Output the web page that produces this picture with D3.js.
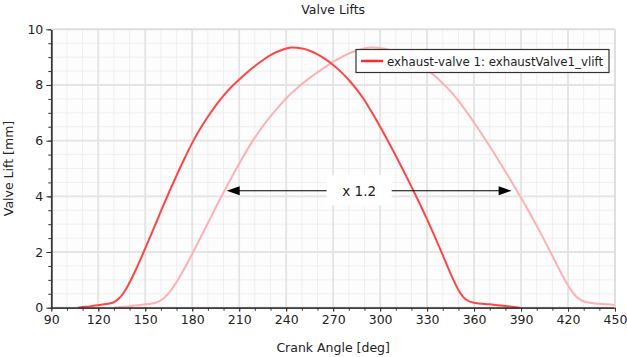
<!DOCTYPE html>
<html><head><meta charset="utf-8">
<script src="https://cdn.jsdelivr.net/npm/d3@7/dist/d3.min.js"></script>
<style>
body{margin:0;background:#fff;}
text{font-family:"DejaVu Sans",sans-serif;fill:#222;}
</style></head>
<body><svg id="c" width="627" height="357"></svg>
<script>
// ---- data ----
const darkAngle = [107,112,117,122,127,130,133,136,139,142,145,149,153,157,161,165,170,175,180,185,190,195,200,205,210,215,220,225,230,235,240,243.5,247,251,255,260,265,270,275,280,285,290,295,300,305,310,315,320,325,330,334,338,342,346,350,353,356,360,370,380,389];
const darkLift  = [0,0.03,0.07,0.11,0.15,0.2,0.32,0.52,0.8,1.13,1.49,2.0,2.53,3.06,3.6,4.12,4.75,5.35,5.92,6.42,6.86,7.26,7.62,7.93,8.2,8.45,8.68,8.89,9.07,9.21,9.31,9.35,9.34,9.3,9.23,9.1,8.93,8.72,8.47,8.18,7.84,7.45,6.99,6.5,5.99,5.46,4.91,4.35,3.77,3.17,2.67,2.15,1.62,1.1,0.64,0.39,0.25,0.18,0.12,0.06,0];
const lightAngle = [130.2,136.2,142.2,148.2,154.2,157.8,161.4,165,168.6,172.2,175.8,180.6,185.4,190.2,195,199.8,205.8,211.8,217.8,223.8,229.8,235.8,241.8,247.8,253.8,259.8,265.8,271.8,277.8,283.8,289.8,294,298.2,303,307.8,313.8,319.8,325.8,331.8,337.8,343.8,349.8,355.8,361.8,367.8,373.8,379.8,385.8,391.8,397.8,402.6,407.4,412.2,417,421.8,425.4,429,433.8,445.8,450];
const lightLift  = [0,0.03,0.07,0.11,0.15,0.2,0.32,0.52,0.8,1.13,1.49,2.0,2.53,3.06,3.6,4.12,4.75,5.35,5.92,6.42,6.86,7.26,7.62,7.93,8.2,8.45,8.68,8.89,9.07,9.21,9.31,9.35,9.34,9.3,9.23,9.1,8.93,8.72,8.47,8.18,7.84,7.45,6.99,6.5,5.99,5.46,4.91,4.35,3.77,3.17,2.67,2.15,1.62,1.1,0.64,0.39,0.25,0.18,0.12,0.1];
const xTicks = [90,120,150,180,210,240,270,300,330,360,390,420,450];
const yTicks = [0,2,4,6,8,10];
const legendLabel = "exhaust-valve 1: exhaustValve1_vlift";
const annotLabel = "x 1.2";
const annotLeft = 202, annotRight = 384, annotY = 4.2, annotCenter = 286.6;

// ---- drawing ----
const svg = d3.select("#c");
const L = 51.3, R = 615, T = 29.3, B = 307.7;
const x = d3.scaleLinear().domain([90,450]).range([L,R]);
const y = d3.scaleLinear().domain([0,10]).range([B,T]);

svg.append("rect").attr("x",L).attr("y",T).attr("width",R-L).attr("height",B-T).attr("fill","#fdfdfd");

const g = svg.append("g");
g.selectAll(".mx").data(d3.range(90,451,10)).join("line")
  .attr("x1",d=>x(d)).attr("x2",d=>x(d)).attr("y1",T).attr("y2",B)
  .attr("stroke","#efefef").attr("stroke-width",1);
g.selectAll(".my").data(d3.range(0,10.01,0.5)).join("line")
  .attr("y1",d=>y(d)).attr("y2",d=>y(d)).attr("x1",L).attr("x2",R)
  .attr("stroke","#efefef").attr("stroke-width",1);
g.selectAll(".Mx").data(xTicks).join("line")
  .attr("x1",d=>x(d)).attr("x2",d=>x(d)).attr("y1",T).attr("y2",B)
  .attr("stroke","#e4e4e4").attr("stroke-width",1.8);
g.selectAll(".My").data(yTicks).join("line")
  .attr("y1",d=>y(d)).attr("y2",d=>y(d)).attr("x1",L).attr("x2",R)
  .attr("stroke","#e4e4e4").attr("stroke-width",1.8);

const line = d3.line().x(d=>x(d[0])).y(d=>y(d[1])).curve(d3.curveMonotoneX);
svg.append("path").datum(lightAngle.map((a,i)=>[a,lightLift[i]]))
  .attr("d",line).attr("fill","none").attr("stroke","#ffb0b0").attr("stroke-width",2);
svg.append("path").datum(darkAngle.map((a,i)=>[a,darkLift[i]]))
  .attr("d",line).attr("fill","none").attr("stroke","#ff4545").attr("stroke-width",2);

const xAxis = d3.axisBottom(x).tickValues(xTicks).tickSize(4).tickSizeOuter(0).tickPadding(3);
const xMinor = d3.axisBottom(x).tickValues(d3.range(90,451,10)).tickSize(3).tickFormat("").tickSizeOuter(0);
const yAxis = d3.axisLeft(y).tickValues(yTicks).tickSize(5).tickSizeOuter(0).tickPadding(3);
const yMinor = d3.axisLeft(y).tickValues(d3.range(0,10.01,0.5)).tickSize(3).tickFormat("").tickSizeOuter(0);
function style(sel){
  sel.select(".domain").attr("stroke","#333").attr("stroke-width",1.3);
  sel.selectAll(".tick line").attr("stroke","#333");
  sel.selectAll(".tick text").attr("font-size",12.5).attr("font-family","DejaVu Sans").attr("fill","#222");
}
svg.append("g").attr("transform",`translate(0,${B})`).call(xMinor).call(style);
svg.append("g").attr("transform",`translate(0,${B})`).call(xAxis).call(style);
svg.append("g").attr("transform",`translate(${L},0)`).call(yMinor).call(style);
svg.append("g").attr("transform",`translate(${L},0)`).call(yAxis).call(style);

svg.append("line").attr("x1",L).attr("x2",R).attr("y1",T).attr("y2",T).attr("stroke","#dcdcdc").attr("stroke-width",1.5);
svg.append("line").attr("x1",R).attr("x2",R).attr("y1",T).attr("y2",B).attr("stroke","#dcdcdc").attr("stroke-width",1.5);

svg.append("text").attr("x",(L+R)/2).attr("y",14).attr("text-anchor","middle").attr("font-size",12.5).text("Valve Lifts");
svg.append("text").attr("x",(L+R)/2).attr("y",352).attr("text-anchor","middle").attr("font-size",12.5).text("Crank Angle [deg]");
svg.append("text").attr("transform",`translate(13,${(T+B)/2}) rotate(-90)`).attr("text-anchor","middle").attr("font-size",12.5).text("Valve Lift [mm]");

const ay = y(annotY);
const boxW = 65, boxH = 30;
svg.append("rect").attr("x",x(annotCenter)-boxW/2).attr("y",ay-15.5).attr("width",boxW).attr("height",boxH).attr("fill","#fff");
svg.append("line").attr("x1",x(annotLeft)+10).attr("x2",x(annotCenter)-boxW/2).attr("y1",ay).attr("y2",ay).attr("stroke","#000").attr("stroke-width",1.2);
svg.append("line").attr("x1",x(annotCenter)+boxW/2).attr("x2",x(annotRight)-10).attr("y1",ay).attr("y2",ay).attr("stroke","#000").attr("stroke-width",1.2);
svg.append("path").attr("d",`M${x(annotLeft)},${ay} L${x(annotLeft)+13},${ay-4.5} L${x(annotLeft)+13},${ay+4.5} Z`).attr("fill","#000");
svg.append("path").attr("d",`M${x(annotRight)},${ay} L${x(annotRight)-13},${ay-4.5} L${x(annotRight)-13},${ay+4.5} Z`).attr("fill","#000");
svg.append("text").attr("x",x(annotCenter)).attr("y",ay+5).attr("text-anchor","middle").attr("font-size",13.5).text(annotLabel);

const lg = svg.append("g");
lg.append("rect").attr("x",356).attr("y",49.5).attr("width",253).attr("height",23).attr("fill","#fff").attr("stroke","#333").attr("stroke-width",1.2);
lg.append("line").attr("x1",361).attr("x2",383).attr("y1",61).attr("y2",61).attr("stroke","#ff2a2a").attr("stroke-width",2.5);
lg.append("text").attr("x",387).attr("y",65.5).attr("font-size",11.8).text(legendLabel);
</script></body></html>
